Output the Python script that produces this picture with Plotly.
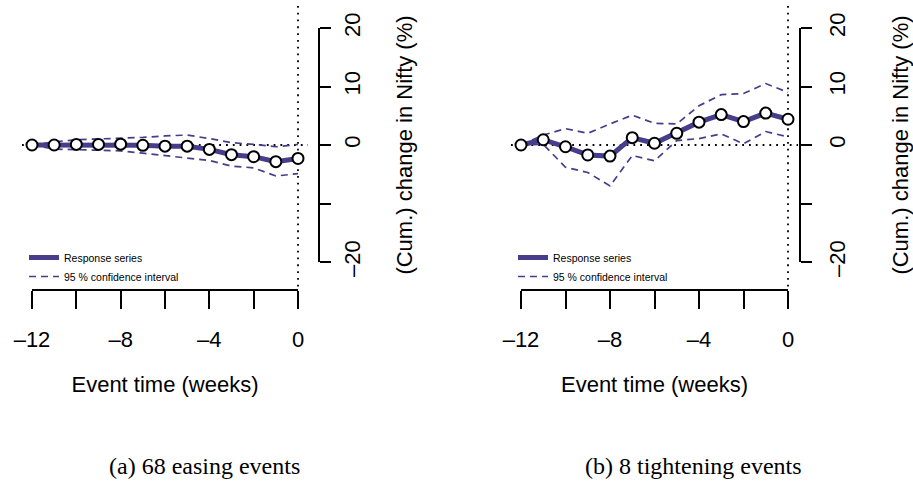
import plotly.graph_objects as go

# ---------------- data ----------------
weeks = [-12, -11, -10, -9, -8, -7, -6, -5, -4, -3, -2, -1, 0]

easing_resp = [0.0, 0.0, 0.1, 0.1, 0.15, -0.05, -0.2, -0.2, -0.75, -1.65, -2.0, -2.85, -2.3]
easing_upper = [0.0, 0.55, 0.9, 1.0, 1.2, 1.3, 1.55, 1.7, 1.1, 0.4, 0.1, -0.3, 0.1]
easing_lower = [0.0, -0.7, -0.8, -0.9, -1.0, -1.4, -1.8, -2.2, -2.65, -3.6, -3.9, -5.3, -4.9]

tight_resp = [0.0, 0.9, -0.3, -1.7, -1.9, 1.25, 0.3, 2.0, 3.9, 5.2, 4.0, 5.45, 4.4]
tight_upper = [0.0, 1.7, 2.8, 2.0, 3.6, 5.1, 3.7, 3.6, 6.7, 8.6, 8.8, 10.5, 9.0]
tight_lower = [0.0, 0.1, -3.8, -4.7, -7.0, -1.8, -2.7, 0.75, 1.1, 1.9, 0.2, 2.3, 1.4]

x_tick_vals = [-12, -10, -8, -6, -4, -2, 0]
x_tick_text = ["\u201312", "", "\u20138", "", "\u20134", "", "0"]
y_tick_vals = [-20, -10, 0, 10, 20]
y_tick_text = ["\u201320", "", "0", "10", "20"]

captions = ["(a) 68 easing events", "(b) 8 tightening events"]
x_title = "Event time (weeks)"
y_title = "(Cum.) change in Nifty (%)"
legend_names = ["Response series", "95 % confidence interval"]

# ---------------- styling / geometry ----------------
W, H = 913, 493
PURPLE = "#483D8B"
SANS = "Liberation Sans, Arial, sans-serif"
SERIF = "Liberation Serif, Times New Roman, serif"
CLEAR = "rgba(0,0,0,0)"


def fx(p):
    return p / W


def fy(p):
    return 1 - p / H


# pixel anchors per panel
panels = [
    dict(x12=32, x0=298, yax=319, cap=204, lab_off=3, tit_off=31,
         resp=easing_resp, up=easing_upper, lo=easing_lower),
    dict(x12=521, x0=788, yax=800, cap=693, lab_off=7, tit_off=46,
         resp=tight_resp, up=tight_upper, lo=tight_lower),
]
Y0_PX, Y20_PX = 145, 28          # pixel rows of y=0 and y=20
XAX_PX = 290                     # pixel row of x axis line
pad_w = 0.45
yr = [-24.2, 24.5]
ysc = (Y0_PX - Y20_PX) / 20.0
ydom = [fy(Y0_PX - yr[0] * ysc), min(1.0, fy(Y0_PX - yr[1] * ysc))]

fig = go.Figure()
layout = dict(
    width=W, height=H, margin=dict(l=0, r=0, t=0, b=0, autoexpand=False),
    paper_bgcolor="white", plot_bgcolor=CLEAR,
    font=dict(family=SANS, color="black"),
    shapes=[], annotations=[],
)

for i, p in enumerate(panels):
    n = i + 1
    xd = "x" if n == 1 else f"x{n}"
    yd = "y" if n == 1 else f"y{n}"
    xdec = f"x{n + 2}"
    ydec = f"y{n + 2}"
    leg = "legend" if n == 1 else "legend2"
    xsc = (p["x0"] - p["x12"]) / 12.0

    # data axes (hidden)
    layout["xaxis" if n == 1 else f"xaxis{n}"] = dict(
        domain=[fx(p["x12"] - pad_w * xsc), fx(p["x0"] + pad_w * xsc)],
        range=[-12 - pad_w, pad_w], visible=False, anchor=yd, automargin=False)
    layout["yaxis" if n == 1 else f"yaxis{n}"] = dict(
        domain=ydom, range=yr, visible=False, anchor=xd, automargin=False)

    # decoration axes (R style)
    layout[f"xaxis{n + 2}"] = dict(
        domain=[fx(p["x12"]), fx(p["x0"])], range=[-12, 0], anchor="free",
        position=fy(XAX_PX), showline=True, linewidth=1.6, linecolor="black",
        ticks="outside", ticklen=18, tickwidth=1.6, tickcolor="black",
        tickvals=x_tick_vals, ticktext=x_tick_text, showgrid=False, zeroline=False,
        tickfont=dict(size=22, family=SANS, color="black"), ticklabelstandoff=12, automargin=False,
        title=dict(text=x_title, font=dict(size=22, family=SANS, color="black"), standoff=24))
    layout[f"yaxis{n + 2}"] = dict(
        domain=[fy(Y0_PX + 20 * ysc), fy(Y20_PX)], range=[-20, 20], anchor="free",
        position=fx(p["yax"]), side="right", showline=True, linewidth=1.6, linecolor="black",
        ticks="outside", ticklen=11, tickwidth=1.6, tickcolor="black",
        tickvals=y_tick_vals, ticktext=y_tick_text, tickangle=-90, showgrid=False, zeroline=False,
        tickfont=dict(size=22, family=SANS, color="black"), ticklabelstandoff=p["lab_off"],
        automargin=False,
        title=dict(text=y_title, font=dict(size=22, family=SANS, color="black"),
                   standoff=p["tit_off"]))

    fig.add_trace(go.Scatter(x=[None], y=[None], xaxis=xdec, yaxis=yd, showlegend=False, hoverinfo="skip"))
    fig.add_trace(go.Scatter(x=[None], y=[None], xaxis=xd, yaxis=ydec, showlegend=False, hoverinfo="skip"))

    # reference dotted lines
    dot = dict(color="black", width=1.8, dash="1.8px,5px")
    layout["shapes"].append(dict(type="line", xref=f"{xd} domain", x0=0, x1=1, yref=yd, y0=0, y1=0,
                                 line=dot, layer="below"))
    layout["shapes"].append(dict(type="line", xref=xd, x0=0, x1=0, yref=f"{yd} domain", y0=0, y1=1,
                                 line=dot, layer="below"))

    # series
    fig.add_trace(go.Scatter(x=weeks, y=p["resp"], mode="lines", name=legend_names[0],
                             line=dict(color=PURPLE, width=5), xaxis=xd, yaxis=yd, legend=leg))
    fig.add_trace(go.Scatter(x=weeks, y=p["up"], mode="lines", name=legend_names[1],
                             line=dict(color=PURPLE, width=1.7, dash="7px,5px"), xaxis=xd, yaxis=yd,
                             legend=leg))
    fig.add_trace(go.Scatter(x=weeks, y=p["lo"], mode="lines", name=legend_names[1], showlegend=False,
                             line=dict(color=PURPLE, width=1.7, dash="7px,5px"), xaxis=xd, yaxis=yd))
    fig.add_trace(go.Scatter(x=weeks, y=p["resp"], mode="markers", showlegend=False,
                             marker=dict(symbol="circle", size=11, color="white",
                                         line=dict(color="black", width=2)),
                             xaxis=xd, yaxis=yd))

    layout[leg] = dict(x=fx(p["x12"] - 8), y=fy(291), xanchor="left", yanchor="bottom",
                       font=dict(size=10.5, family=SANS, color="black"), itemwidth=30,
                       bgcolor=CLEAR, tracegroupgap=0)

    layout["annotations"].append(dict(text=captions[i], x=fx(p["cap"]), y=fy(466), xref="paper",
                                      yref="paper", showarrow=False, xanchor="center", yanchor="middle",
                                      font=dict(size=24, family=SERIF, color="black")))

fig.update_layout(**layout)
# the page body has a default 8px margin; remove it so the figure sits at the window origin
fig.write_html("out.html", config={"displayModeBar": False},
               post_script="document.body.style.margin='0';")
